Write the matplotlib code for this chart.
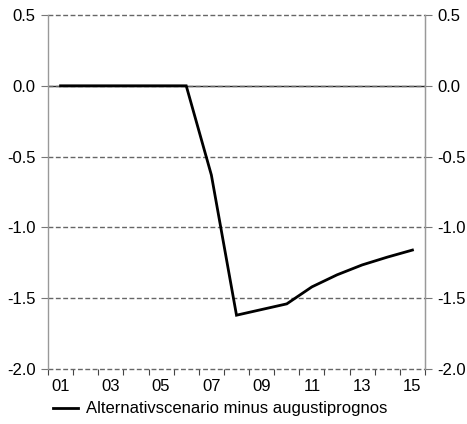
import numpy as np
import matplotlib.pyplot as plt

plt.rcParams['font.family'] = ['Liberation Sans', 'DejaVu Sans']

# data
years = list(range(1, 16))
year_labels = ['01', '03', '05', '07', '09', '11', '13', '15']
diff = [0, 0, 0, 0, 0, 0, -0.63, -1.62, -1.58, -1.54, -1.42, -1.335, -1.265, -1.21, -1.16]
series_name = 'Alternativscenario minus augustiprognos'
yticks = [-2.0, -1.5, -1.0, -0.5, 0.0, 0.5]
fs = 12

fig = plt.figure(figsize=(4.67, 4.24), dpi=100)
ax = fig.add_axes([48/467, 1 - 369/424, 377/467, 354/424])

# dashed grid lines and zero line
ax.axhline(0, color='#222222', lw=1.0, zorder=1)
for y in yticks:
    ax.axhline(y, color='#666666', lw=1.0, ls=(0, (3.5, 1.8)), zorder=2, clip_on=False)

ax.plot(years, diff, color='black', lw=2.0, zorder=3, label=series_name,
        solid_joinstyle='miter')

ax.set_xlim(0.5, 15.5)
ax.set_ylim(-2.0, 0.5)

# x axis: labels on odd years, tick marks between years
ax.set_xticks(years[::2])
ax.set_xticklabels(year_labels)
ax.set_xticks(np.arange(0.5, 16, 1), minor=True)
ax.tick_params(axis='x', which='major', length=0, pad=7, labelsize=fs)
ax.tick_params(axis='x', which='minor', length=4, width=0.8, color='#444444', direction='out')

ax.set_yticks(yticks)
ax.set_yticklabels(['%.1f' % v for v in yticks])
ax.tick_params(axis='y', length=5, width=0.8, color='#777777', pad=4, labelsize=fs)

for s in ['top', 'bottom']:
    ax.spines[s].set_visible(False)
for s in ['left', 'right']:
    ax.spines[s].set_color('#999999')
    ax.spines[s].set_linewidth(1.0)

ax2 = ax.twinx()
ax2.set_ylim(-2.0, 0.5)
ax2.set_yticks(yticks)
ax2.set_yticklabels(['%.1f' % v for v in yticks])
ax2.tick_params(axis='y', length=5, width=0.8, color='#777777', pad=4, labelsize=fs)
for s in ['top', 'bottom', 'left']:
    ax2.spines[s].set_visible(False)
ax2.spines['right'].set_color('#999999')

fig.legend(loc='center left', bbox_to_anchor=(53/467, 1 - 409/424), frameon=False,
           borderpad=0, borderaxespad=0, handlelength=1.5, handletextpad=0.45,
           fontsize=fs)

fig.savefig('out.png', dpi=100)
